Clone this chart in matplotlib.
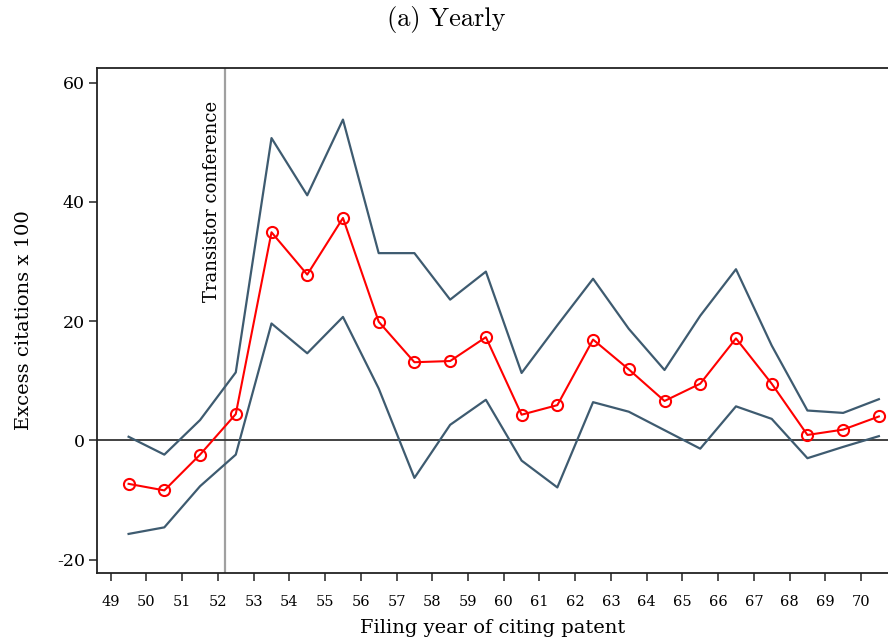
import matplotlib
matplotlib.use("Agg")
import matplotlib.pyplot as plt

# Filing year of citing patent (bins centred between year ticks)
years = [49.5, 50.5, 51.5, 52.5, 53.5, 54.5, 55.5, 56.5, 57.5, 58.5, 59.5,
         60.5, 61.5, 62.5, 63.5, 64.5, 65.5, 66.5, 67.5, 68.5, 69.5, 70.5]

# Point estimates of excess citations (x 100)
estimate = [-7.3, -8.4, -2.4, 4.4, 34.9, 27.8, 37.3, 19.9, 13.1, 13.3, 17.3,
            4.3, 5.9, 16.9, 11.9, 6.6, 9.5, 17.1, 9.5, 0.9, 1.8, 4.0]

# Upper and lower confidence bounds
upper = [0.6, -2.4, 3.4, 11.4, 50.7, 41.1, 53.8, 31.4, 31.4, 23.6, 28.3,
         11.3, 19.3, 27.1, 18.7, 11.8, 20.9, 28.7, 15.9, 5.0, 4.6, 6.9]
lower = [-15.7, -14.6, -7.7, -2.4, 19.6, 14.6, 20.7, 8.7, -6.3, 2.6, 6.8,
         -3.4, -7.9, 6.4, 4.8, 1.7, -1.4, 5.7, 3.6, -3.0, -1.1, 0.7]

xticks = list(range(49, 71))
yticks = [-20, 0, 20, 40, 60]
conference_year = 52.2

serif = ["DejaVu Serif"]

fig = plt.figure(figsize=(8.88, 6.41), dpi=100)
ax = fig.add_axes([0.1096, 0.1066, 0.8904, 0.7868])

band_color = "#3e5b70"
ax.plot(years, upper, color=band_color, lw=1.6, zorder=3)
ax.plot(years, lower, color=band_color, lw=1.6, zorder=3)
ax.plot(years, estimate, color="#ff0000", lw=1.5, marker="o", ms=8,
        mfc="none", mec="#ff0000", mew=1.5, zorder=4)

ax.axhline(0, color="#333333", lw=1.3, zorder=2)
ax.axvline(conference_year, color="#a0a0a0", lw=1.6, zorder=1)
ax.text(conference_year - 0.1, 57, "Transistor conference", rotation=90,
        ha="right", va="top", fontsize=13, family=serif)

ax.set_xlim(48.625, 70.755)
ax.set_ylim(-22.2, 62.4)
ax.set_xticks(xticks)
ax.set_xticklabels([str(t) for t in xticks], family=serif, fontsize=10.5)
ax.set_yticks(yticks)
ax.set_yticklabels([str(t) for t in yticks], family=serif, fontsize=12.5)
ax.tick_params(axis="both", direction="out", length=6, width=1.1,
               color="#222222")
ax.tick_params(axis="x", pad=10)
ax.tick_params(axis="y", pad=3)

for s in ["left", "bottom", "top"]:
    ax.spines[s].set_linewidth(1.3)
    ax.spines[s].set_color("#222222")
ax.spines["right"].set_visible(False)

ax.set_xlabel("Filing year of citing patent", family=serif, fontsize=14,
              labelpad=7)
ax.set_ylabel("Excess citations x 100", family=serif, fontsize=14,
              labelpad=17)

fig.text(0.502, 0.970, "(a) Yearly", ha="center", va="center",
         family=["cmr10", "DejaVu Serif"], fontsize=19)

fig.savefig("out.png", dpi=100)
